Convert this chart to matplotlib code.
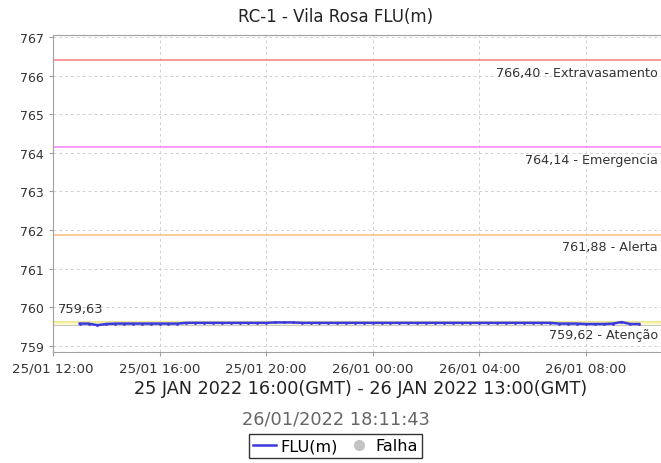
import matplotlib
matplotlib.use("Agg")
import matplotlib.pyplot as plt
import matplotlib.dates as mdates
from matplotlib.lines import Line2D
import numpy as np
import pandas as pd

# level readings (m), every 20 min from 25/01 13:00 to 26/01 10:00
start = "2022-01-25 13:00"
step_min = 20
flu = [
    759.58, 759.58, 759.54, 759.57, 759.58, 759.58, 759.58, 759.58,
    759.58, 759.58, 759.58, 759.58, 759.60, 759.60, 759.60, 759.60,
    759.60, 759.60, 759.60, 759.60, 759.60, 759.60, 759.61, 759.61,
    759.61, 759.60, 759.60, 759.60, 759.60, 759.60, 759.60, 759.60,
    759.60, 759.60, 759.60, 759.60, 759.60, 759.60, 759.60, 759.60,
    759.60, 759.60, 759.60, 759.60, 759.60, 759.60, 759.60, 759.60,
    759.60, 759.60, 759.60, 759.60, 759.60, 759.60, 759.58, 759.58,
    759.58, 759.57, 759.57, 759.57, 759.58, 759.62, 759.57, 759.57,
]

# threshold lines
limits = [766.40, 764.14, 761.88, 759.62]
limit_names = ["Extravasamento", "Emergencia", "Alerta", "Atenção"]
limit_colors = ["#f48a8a", "#f78af7", "#f8c48a", "#f5ef8a"]
ref_level = 759.63

yticks = [759, 760, 761, 762, 763, 764, 765, 766, 767]

title = "RC-1 - Vila Rosa FLU(m)"
subtitle = "25 JAN 2022 16:00(GMT) - 26 JAN 2022 13:00(GMT)"
stamp = "26/01/2022 18:11:43"

times = pd.date_range(start, periods=len(flu), freq=f"{step_min}min")

fig = plt.figure(figsize=(6.61, 4.64), dpi=100)
W, H = 661, 464
ax = fig.add_axes([53 / W, 1 - 353 / H, (661 - 53) / W, (353 - 36) / H])

# reference band
ax.axhspan(ref_level - 0.08, ref_level + 0.03, facecolor="#fbf6d2",
           edgecolor="#c8c8c8", linewidth=0.8, zorder=1)

for v, name, c in zip(limits, limit_names, limit_colors):
    ax.axhline(v, color=c, linewidth=1.2, zorder=2)
    lbl = f"{v:.2f}".replace(".", ",") + " - " + name
    ax.annotate(lbl, xy=(1, v), xycoords=("axes fraction", "data"),
                xytext=(-3, -12), textcoords="offset pixels",
                ha="right", va="center", fontsize=9.2, color="#333333")

ax.annotate(f"{ref_level:.2f}".replace(".", ","), xy=(0, ref_level),
            xycoords=("axes fraction", "data"), xytext=(5, 13),
            textcoords="offset pixels", ha="left", va="center",
            fontsize=9.4, color="#333333")

ax.plot(times, flu, color="#3a3adf", linewidth=1.8, marker=".",
        markersize=2, zorder=4)

x0 = pd.Timestamp("2022-01-25 12:00")
x1 = x0 + pd.Timedelta(hours=(661 - 54) / 26.6)
ax.set_xlim(x0, x1)
ax.set_ylim(758.845, 767.05)
ax.set_yticks(yticks)
ax.xaxis.set_major_locator(mdates.HourLocator(byhour=[0, 4, 8, 12, 16, 20]))
ax.xaxis.set_major_formatter(mdates.DateFormatter("%d/%m %H:%M"))

ax.grid(True, color="#d0d0d0", linestyle=(0, (3, 3)), linewidth=0.7)
ax.set_axisbelow(True)
for s in ["left", "bottom", "top"]:
    ax.spines[s].set_color("#a0a0a0")
ax.spines["right"].set_visible(False)
ax.tick_params(axis="both", colors="#a0a0a0", labelcolor="#333333", length=3)
ax.tick_params(axis="x", labelsize=9.6)
ax.tick_params(axis="y", labelsize=9)

fig.text(336 / W, 1 - 17 / H, title, ha="center", va="center",
         fontsize=12, color="#222222")
fig.text(361 / W, 1 - 389 / H, subtitle, ha="center", va="center",
         fontsize=12.7, color="#222222")
fig.text(336 / W, 1 - 419 / H, stamp, ha="center", va="center",
         fontsize=12.8, color="#666666")

handles = [Line2D([], [], color="#3a3adf", linewidth=1.8),
           Line2D([], [], linestyle="", marker="o", color="#c4c4c4", markersize=7)]
leg = fig.legend(handles, ["FLU(m)", "Falha"], loc="center",
                 bbox_to_anchor=(335.5 / W, 1 - 447 / H), ncol=2,
                 fontsize=11.6, frameon=True, fancybox=False, handlelength=1.4,
                 handletextpad=0.3, columnspacing=0.6, borderpad=0.25,
                 borderaxespad=0)
leg.get_frame().set_edgecolor("black")
leg.get_frame().set_linewidth(1.0)

fig.savefig("out.png", dpi=100)
